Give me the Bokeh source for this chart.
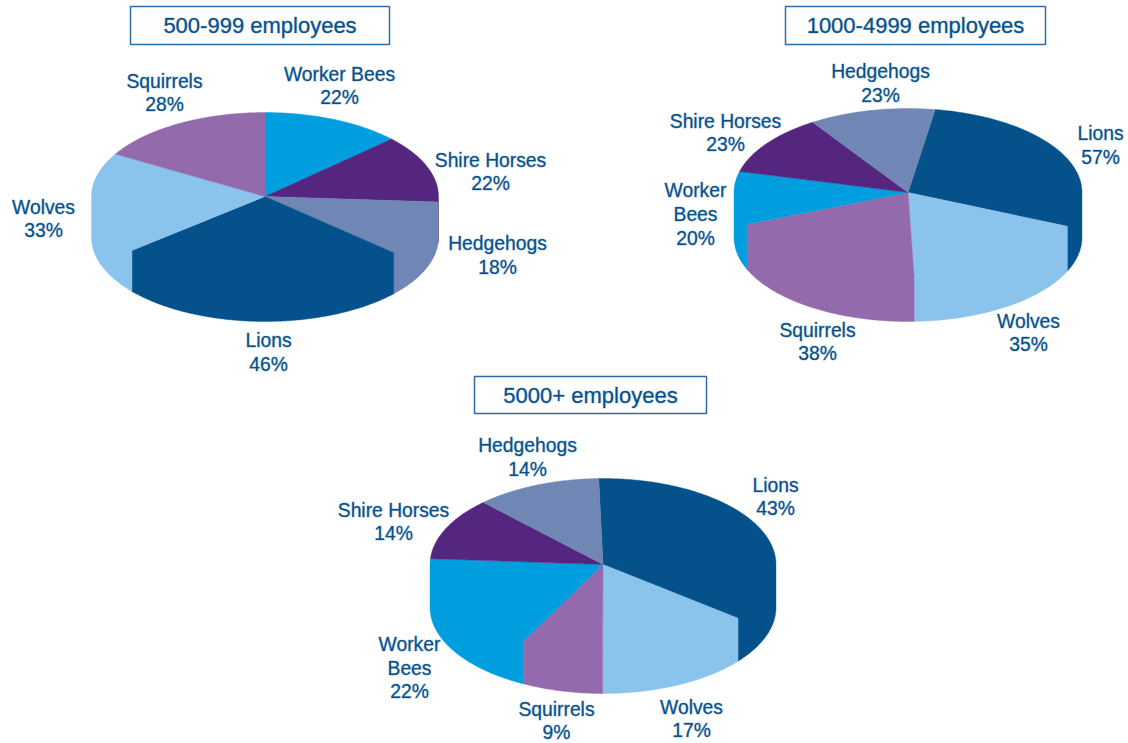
import numpy as np
from bokeh.core.properties import value
from bokeh.embed import file_html
from bokeh.models import ColumnDataSource
from bokeh.plotting import figure
from bokeh.resources import INLINE

WIDTH, HEIGHT = 1128, 743
TEXT_BLUE = "#04518C"
TEXT_EDGE = "#04518C59"  # thin translucent stroke gives the captions a medium weight
FRAME_BLUE = "#2E6CA8"
FONT = "Liberation Sans"
FONT_SIZE = "19.3px"
LINE_STEP = 23.8

colors = {
    "Lions": "#04518C",
    "Wolves": "#8AC3EB",
    "Squirrels": "#936AAB",
    "Worker Bees": "#009EDF",
    "Shire Horses": "#54267F",
    "Hedgehogs": "#7086B4",
}

# Survey shares, listed clockwise from each pie's first slice
small_names = ["Worker Bees", "Shire Horses", "Hedgehogs", "Lions", "Wolves", "Squirrels"]
small_values = [22, 22, 18, 46, 33, 28]
mid_names = ["Lions", "Wolves", "Squirrels", "Worker Bees", "Shire Horses", "Hedgehogs"]
mid_values = [57, 35, 38, 20, 23, 23]
large_names = ["Lions", "Wolves", "Squirrels", "Worker Bees", "Shire Horses", "Hedgehogs"]
large_values = [43, 17, 9, 22, 14, 14]

# Pie geometry and label placement for each panel
panels = [
    dict(
        title="500-999 employees", box=(130, 389, 6, 44),
        names=small_names, values=small_values,
        cx=264.5, cy=196, rx=173.5, ry=84, depth=41, start=0,
        labels=[(339, 85.5, 1), (490, 171.5, 1), (497, 255, 1),
                (268, 352, 1), (43, 218.5, 1), (164, 92.5, 1)],
    ),
    dict(
        title="1000-4999 employees", box=(785, 1045, 6, 44),
        names=mid_names, values=mid_values,
        cx=907.5, cy=192, rx=174, ry=84, depth=45, start=9,
        labels=[(1100, 145, 1), (1028, 332.5, 1), (817, 341.5, 1),
                (695, 214, 2), (725, 132.5, 1), (880, 83, 1)],
    ),
    dict(
        title="5000+ employees", box=(474, 706, 376, 413),
        names=large_names, values=large_values,
        cx=602.5, cy=564, rx=173, ry=86, depth=43, start=-1.4,
        labels=[(775, 496.5, 1), (691, 718.5, 1), (556, 720.5, 1),
                (409, 667.5, 2), (393, 521.5, 1), (527, 457, 1)],
    ),
]

WRAPPED = {"Worker Bees": ["Worker", "Bees"]}

p = figure(
    width=WIDTH, height=HEIGHT,
    x_range=(0, WIDTH), y_range=(HEIGHT, 0),
    output_backend="svg", toolbar_location=None,
    min_border=0, outline_line_color=None,
)
p.axis.visible = False
p.grid.visible = False
p.background_fill_color = "white"
p.border_fill_color = "white"


def rim_point(panel, angle):
    t = np.radians(angle)
    return (panel["cx"] + panel["rx"] * np.sin(t),
            panel["cy"] - panel["ry"] * np.cos(t))


def slice_outline(panel, a0, a1):
    """Outline of one slice, top face and front wall together; angles run clockwise from 12 o'clock."""
    x0, y0 = rim_point(panel, a0)
    x1, y1 = rim_point(panel, a1)
    xs, ys = [panel["cx"], x0], [panel["cy"], y0]
    cuts = [a0] + [c for c in (90.0, 270.0) if a0 < c < a1] + [a1]
    for lo, hi in zip(cuts[:-1], cuts[1:]):
        mid = (lo + hi) / 2
        drop = panel["depth"] if 90.0 <= mid <= 270.0 else 0.0
        for angle in np.linspace(lo, hi, int((hi - lo) * 1.5) + 2):
            x, y = rim_point(panel, angle)
            xs.append(x)
            ys.append(y + drop)
    xs.append(x1)
    ys.append(y1)
    return xs, ys


for panel in panels:
    vals = np.array(panel["values"], dtype=float)
    bounds = panel["start"] + np.concatenate([[0], np.cumsum(vals)]) * 360.0 / vals.sum()
    slice_colors = [colors[n] for n in panel["names"]]

    shapes = [slice_outline(panel, a0, a1) for a0, a1 in zip(bounds[:-1], bounds[1:])]
    p.patches("x", "y", fill_color="c", line_color="c", line_width=0.4,
              source=ColumnDataSource(dict(x=[s[0] for s in shapes],
                                           y=[s[1] for s in shapes],
                                           c=slice_colors)))

    # Slice captions: category name, then the stated percentage
    tx, ty, tt = [], [], []
    for name, val, (lx, ly, name_lines) in zip(panel["names"], panel["values"], panel["labels"]):
        lines = WRAPPED[name] if name_lines == 2 else [name]
        lines = lines + [f"{val}%"]
        top = ly - LINE_STEP * (len(lines) - 1) / 2
        for i, line in enumerate(lines):
            tx.append(lx)
            ty.append(top + i * LINE_STEP)
            tt.append(line)
    p.text("x", "y", text="t", source=ColumnDataSource(dict(x=tx, y=ty, t=tt)),
           text_color=TEXT_BLUE, text_font=value(FONT), text_font_size=FONT_SIZE,
           text_align="center", text_baseline="middle", outline_color=TEXT_EDGE)

    # Framed panel heading
    x0, x1, y0, y1 = panel["box"]
    p.quad(left=[x0], right=[x1], top=[y0], bottom=[y1], fill_color="white",
           line_color=FRAME_BLUE, line_width=1.5)
    p.text([(x0 + x1) / 2], [(y0 + y1) / 2], text=[panel["title"]],
           text_color=TEXT_BLUE, text_font=value(FONT), text_font_size="22px",
           text_align="center", text_baseline="middle", outline_color=TEXT_EDGE)

open("out.html", "w").write(file_html(p, INLINE))
